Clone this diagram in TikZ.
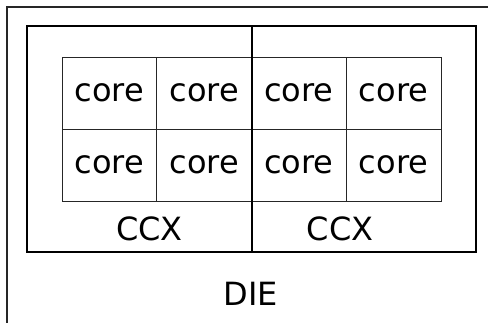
\documentclass[tikz,border=0pt]{standalone}
\usepackage{fontspec}
\setmainfont{DejaVu Sans}
\usetikzlibrary{shapes}
\tikzstyle{core} = [rectangle, minimum width=94.75pt, minimum height=72pt, text centered, draw=black!85, line width=1pt, inner sep=0pt]
\tikzstyle{ccx} = [rectangle, minimum height=226pt, draw=black, line width=2pt, inner sep=0pt]
\tikzstyle{die} = [rectangle, draw=black!85, line width=2pt, inner sep=0pt]
\tikzstyle{tag} = [text centered, inner sep=0pt]

\begin{document}
\begin{tikzpicture}[x=1pt, y=-1pt, node distance=94.75pt, font=\fontsize{32}{38}\selectfont]
        \clip (0,0) rectangle (488,322);
        \node (die) [die, minimum width=488pt, minimum height=340pt] at (251,177) {};
        % two rows of cores
        \node (c11) [core] at (109.4,93) {core};
        \node (c12) [core, right of=c11] {core};
        \node (c13) [core, right of=c12] {core};
        \node (c14) [core, right of=c13] {core};
        \node (c21) [core, below of=c11, node distance=72pt] {core};
        \node (c22) [core, right of=c21] {core};
        \node (c23) [core, right of=c22] {core};
        \node (c24) [core, right of=c23] {core};
        % the two CCX boxes go on top of the grid
        \node (ccxa) [ccx, minimum width=225pt] at (139.5,139) {};
        \node (ccxb) [ccx, minimum width=224pt] at (364,139) {};
        \node (ccxatext) [tag] at (149.5,229) {CCX};
        \node (ccxbtext) [tag] at (340,229) {CCX};
        \node (dietext) [tag] at (251,294) {DIE};
    \end{tikzpicture}
\end{document}
